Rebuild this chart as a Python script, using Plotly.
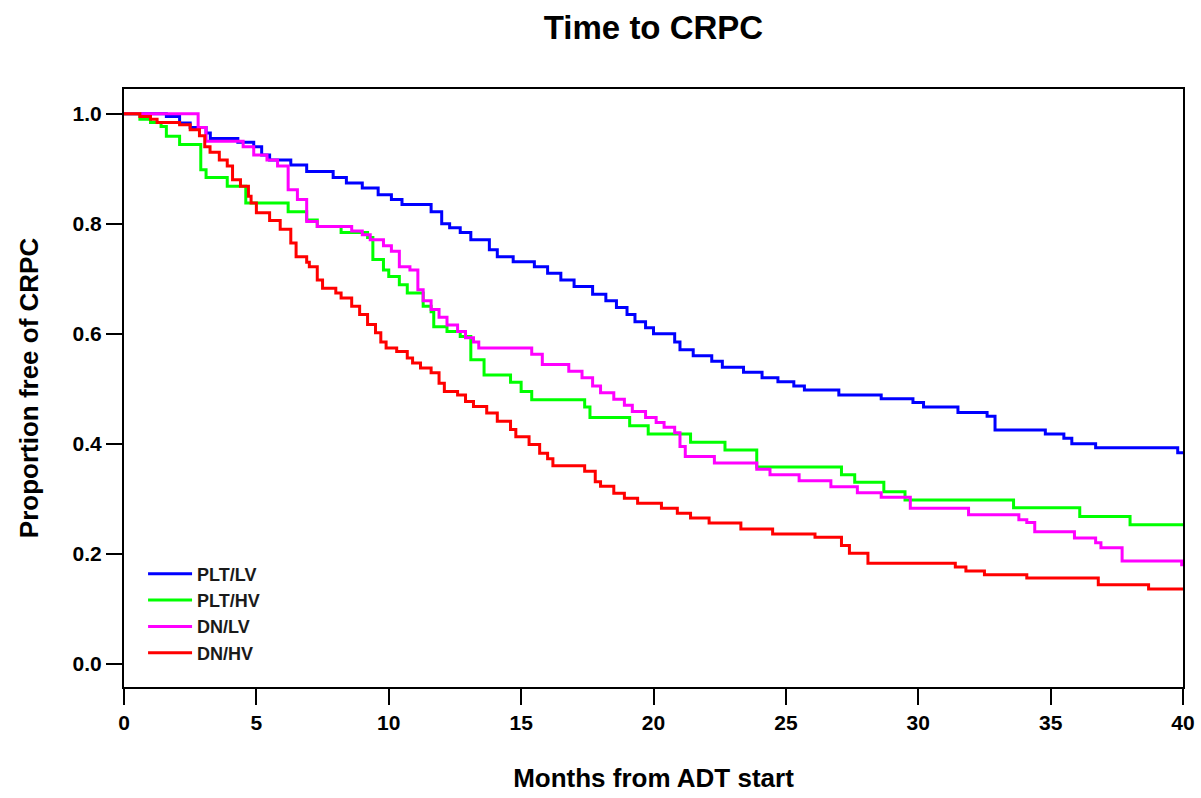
import plotly.graph_objects as go

# Kaplan-Meier step data (months, proportion free of CRPC)
plt_lv_t = [0, 1.6, 2.1, 2.5, 3.1, 3.26, 4.3, 4.9, 5.2, 5.5, 6.3, 6.9, 7.9, 8.4, 9.0, 9.6, 10.1, 10.5,
            11.6, 12.0, 12.3, 12.7, 13.1, 13.8, 14.1, 14.7, 15.5, 16.0, 16.5, 17.0, 17.7, 18.2, 18.6,
            19.0, 19.3, 19.7, 20.0, 20.8, 21.0, 21.5, 22.2, 22.6, 23.4, 24.1, 24.7, 25.3, 25.7, 27.0,
            28.6, 29.8, 30.2, 31.5, 32.6, 32.9, 34.8, 35.5, 35.8, 36.7, 39.8, 40.0]
plt_lv_s = [1.0, 0.995, 0.983, 0.975, 0.965, 0.955, 0.948, 0.94, 0.925, 0.916, 0.907, 0.895, 0.884,
            0.874, 0.865, 0.853, 0.844, 0.835, 0.822, 0.80, 0.793, 0.784, 0.771, 0.753, 0.74, 0.731,
            0.722, 0.71, 0.698, 0.686, 0.672, 0.66, 0.648, 0.635, 0.622, 0.611, 0.60, 0.585, 0.571,
            0.56, 0.55, 0.539, 0.53, 0.52, 0.513, 0.505, 0.498, 0.489, 0.482, 0.475, 0.467, 0.457,
            0.45, 0.425, 0.418, 0.41, 0.40, 0.393, 0.384, 0.384]

plt_hv_t = [0, 0.6, 1.0, 1.4, 1.6, 2.1, 2.9, 3.1, 3.9, 4.6, 6.2, 6.9, 7.3, 8.2, 9.2, 9.4, 9.8, 10.0,
            10.4, 10.7, 11.3, 11.6, 11.7, 12.2, 12.7, 13.1, 13.6, 14.6, 15.0, 15.4, 17.4, 17.6, 19.1,
            19.8, 21.4, 22.7, 23.9, 27.1, 27.6, 28.7, 29.5, 33.6, 36.1, 38.0, 40.0]
plt_hv_s = [1.0, 0.99, 0.984, 0.977, 0.959, 0.944, 0.898, 0.884, 0.868, 0.838, 0.822, 0.807, 0.795,
            0.784, 0.775, 0.735, 0.716, 0.704, 0.689, 0.674, 0.65, 0.64, 0.613, 0.604, 0.595, 0.553,
            0.525, 0.512, 0.495, 0.48, 0.467, 0.448, 0.433, 0.418, 0.403, 0.389, 0.358, 0.344, 0.33,
            0.313, 0.298, 0.284, 0.268, 0.253, 0.253]

dn_lv_t = [0, 2.8, 3.1, 4.5, 4.9, 5.4, 5.8, 6.2, 6.55, 6.9, 7.3, 8.6, 9.0, 9.3, 9.8, 10.1, 10.4, 10.8,
           11.1, 11.3, 11.6, 11.9, 12.2, 12.6, 12.9, 13.2, 13.4, 15.4, 15.8, 16.8, 17.3, 17.7, 18.0,
           18.5, 18.9, 19.2, 19.7, 20.1, 20.4, 20.8, 21.0, 21.2, 22.3, 23.9, 24.4, 25.5, 26.7, 27.7,
           28.6, 29.7, 31.9, 33.8, 34.1, 34.4, 35.9, 36.7, 36.9, 37.7, 39.95, 40.0]
dn_lv_s = [1.0, 0.975, 0.95, 0.94, 0.925, 0.916, 0.905, 0.862, 0.844, 0.804, 0.795, 0.787, 0.78,
           0.771, 0.76, 0.75, 0.722, 0.716, 0.68, 0.66, 0.644, 0.63, 0.616, 0.604, 0.593, 0.585,
           0.574, 0.563, 0.544, 0.532, 0.52, 0.505, 0.493, 0.481, 0.47, 0.459, 0.448, 0.439, 0.43,
           0.42, 0.395, 0.377, 0.365, 0.354, 0.344, 0.333, 0.322, 0.311, 0.303, 0.283, 0.271, 0.262,
           0.257, 0.24, 0.229, 0.22, 0.211, 0.187, 0.18, 0.18]

dn_hv_t = [0, 0.6, 1.0, 1.25, 2.1, 2.5, 2.85, 3.05, 3.25, 3.6, 3.9, 4.1, 4.4, 4.7, 4.8, 5.0, 5.5, 5.9,
           6.3, 6.5, 6.9, 7.0, 7.3, 7.5, 8.0, 8.2, 8.6, 8.9, 9.2, 9.5, 9.7, 9.9, 10.3, 10.7, 10.9,
           11.2, 11.6, 11.9, 12.1, 12.6, 12.9, 13.2, 13.7, 14.1, 14.6, 14.8, 15.3, 15.7, 16.0, 16.2,
           17.4, 17.8, 18.0, 18.5, 18.9, 19.4, 20.3, 20.9, 21.4, 22.1, 23.3, 24.5, 26.1, 27.1, 27.4,
           28.1, 31.4, 31.8, 32.5, 34.1, 36.8, 38.7, 40.0]
dn_hv_s = [1.0, 0.995, 0.99, 0.984, 0.98, 0.971, 0.96, 0.94, 0.93, 0.916, 0.905, 0.88, 0.868, 0.85,
           0.838, 0.82, 0.806, 0.79, 0.765, 0.74, 0.73, 0.722, 0.698, 0.683, 0.674, 0.665, 0.65,
           0.635, 0.617, 0.602, 0.585, 0.574, 0.568, 0.556, 0.547, 0.538, 0.529, 0.51, 0.495, 0.489,
           0.477, 0.468, 0.456, 0.441, 0.426, 0.413, 0.399, 0.383, 0.373, 0.36, 0.35, 0.331, 0.323,
           0.31, 0.301, 0.292, 0.283, 0.274, 0.265, 0.256, 0.245, 0.236, 0.23, 0.215, 0.201, 0.183,
           0.176, 0.169, 0.162, 0.156, 0.144, 0.136, 0.136]

series_names = ["PLT/LV", "PLT/HV", "DN/LV", "DN/HV"]
series_colors = ["#0000FF", "#00FF00", "#FF00FF", "#FF0000"]
series_t = [plt_lv_t, plt_hv_t, dn_lv_t, dn_hv_t]
series_s = [plt_lv_s, plt_hv_s, dn_lv_s, dn_hv_s]

x_ticks = [0, 5, 10, 15, 20, 25, 30, 35, 40]
y_ticks = [0.0, 0.2, 0.4, 0.6, 0.8, 1.0]

FONT = "Arial, Liberation Sans, sans-serif"

fig = go.Figure()
for name, col, t, s in zip(series_names, series_colors, series_t, series_s):
    fig.add_trace(go.Scatter(x=t, y=s, mode="lines", name=name,
                             line=dict(color=col, width=3, shape="hv")))

axis_common = dict(showline=True, linecolor="black", linewidth=2, mirror=True,
                   ticks="outside", ticklen=16, tickwidth=2, tickcolor="black",
                   showgrid=False, zeroline=False, automargin=False,
                   tickfont=dict(family=FONT, size=21, color="black", weight="bold"))

fig.update_xaxes(range=[0, 40], tickvals=x_ticks,
                 title=dict(text="Months from ADT start", standoff=36,
                            font=dict(family=FONT, size=26, color="black", weight="bold")),
                 **axis_common)
fig.update_yaxes(range=[-0.042, 1.045], tickvals=y_ticks, tickformat=".1f",
                 title=dict(text="Proportion free of CRPC", standoff=26,
                            font=dict(family=FONT, size=26, color="black", weight="bold")),
                 **axis_common)

fig.update_layout(
    width=1201, height=798,
    margin=dict(l=124, r=18, t=89, b=111, autoexpand=False),
    paper_bgcolor="white", plot_bgcolor="white",
    title=dict(text="Time to CRPC", x=0.5, xref="paper", y=0.965, yanchor="middle",
               font=dict(family=FONT, size=33, color="black", weight="bold")),
    legend=dict(x=0.018, y=0.22, xanchor="left", yanchor="top", itemwidth=44,
                bgcolor="rgba(0,0,0,0)", borderwidth=0, tracegroupgap=0,
                font=dict(family=FONT, size=18, color="#1a1a1a", weight="bold")),
    showlegend=True,
)

fig.write_html("out.html", config={"displayModeBar": False},
               post_script="document.body.style.margin='0';document.body.style.overflow='hidden';")
